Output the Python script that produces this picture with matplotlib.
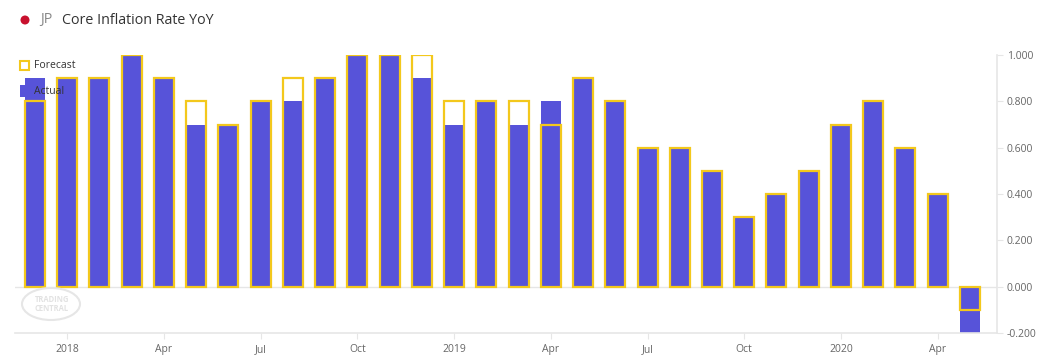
import matplotlib
matplotlib.use("Agg")
import matplotlib.pyplot as plt
from matplotlib.patches import Rectangle, Ellipse
import numpy as np

# ---- data ----
actual = [0.9, 0.9, 0.9, 1.0, 0.9, 0.7, 0.7, 0.8, 0.8, 0.9, 1.0, 1.0, 0.9, 0.7, 0.8,
          0.7, 0.8, 0.9, 0.8, 0.6, 0.6, 0.5, 0.3, 0.4, 0.5, 0.7, 0.8, 0.6, 0.4, -0.2]
forecast = [0.8, 0.9, 0.9, 1.0, 0.9, 0.8, 0.7, 0.8, 0.9, 0.9, 1.0, 1.0, 1.0, 0.8, 0.8,
            0.8, 0.7, 0.9, 0.8, 0.6, 0.6, 0.5, 0.3, 0.4, 0.5, 0.7, 0.8, 0.6, 0.4, -0.1]
xtick_pos = [1, 4, 7, 10, 13, 16, 19, 22, 25, 28]
xtick_labels = ["2018", "Apr", "Jul", "Oct", "2019", "Apr", "Jul", "Oct", "2020", "Apr"]
ytick_vals = [-0.2, 0.0, 0.2, 0.4, 0.6, 0.8, 1.0]

BLUE = "#5753d9"
YELLOW = "#f3c81c"
GRID = "#e6e6e6"
TXT = "#666666"

plt.rcParams['font.family'] = ['Open Sans', 'DejaVu Sans']

W, H = 1048, 363
fig = plt.figure(figsize=(W / 100, H / 100), dpi=100)
fig.patch.set_facecolor("white")

def fx(px):
    return px / W

def fy(py):
    return 1 - py / H

ax = fig.add_axes([fx(15), fy(333), fx(997) - fx(15), fy(55) - fy(333)])
x = np.arange(len(actual))
bw = 0.62
ax.bar(x, actual, width=bw, color=BLUE, zorder=2, linewidth=0)
ax.bar(x, forecast, width=bw, facecolor="none", edgecolor=YELLOW, linewidth=1.6, zorder=3)

ax.set_xlim(-0.62, 29.84)
ax.set_ylim(-0.2, 1.0)
ax.axhline(0, color=GRID, linewidth=1, zorder=1)

for s in ["top", "left"]:
    ax.spines[s].set_visible(False)
for s in ["right", "bottom"]:
    ax.spines[s].set_color(GRID)
    ax.spines[s].set_linewidth(1.2)

ax.yaxis.tick_right()
ax.set_yticks(ytick_vals)
ax.set_yticklabels([f"{v:.3f}" for v in ytick_vals])
ax.set_xticks(xtick_pos)
ax.set_xticklabels(xtick_labels)
ax.tick_params(axis="y", colors=GRID, labelcolor=TXT, labelsize=7.5, length=4, pad=3)
ax.tick_params(axis="x", colors=GRID, labelcolor=TXT, labelsize=7.5, length=4, pad=4)
ax.set_facecolor("none")

# Title
fig.patches.append(Ellipse((fx(25), fy(20)), 9 / W, 9 / H, transform=fig.transFigure,
                           facecolor="#c8102e", edgecolor="none", figure=fig))
fig.text(fx(40), fy(20), "JP", color="#888888", fontsize=10.3, va="center", ha="left")
fig.text(fx(62), fy(20), "Core Inflation Rate YoY", color="#333333", fontsize=10.3,
         va="center", ha="left")

# Legend
fig.patches.append(Rectangle((fx(20), fy(70)), fx(9), fy(61) - fy(70),
                             transform=fig.transFigure, facecolor="white",
                             edgecolor=YELLOW, linewidth=1.5, figure=fig, zorder=5))
fig.text(fx(34), fy(66), "Forecast", color="#333333", fontsize=7.5, va="center", ha="left",
         zorder=6)
fig.patches.append(Rectangle((fx(20), fy(97)), fx(10), fy(85) - fy(97),
                             transform=fig.transFigure, facecolor=BLUE,
                             edgecolor="none", figure=fig, zorder=5))
fig.text(fx(34), fy(91), "Actual", color="#333333", fontsize=7.5, va="center", ha="left",
         zorder=6)

# Watermark
fig.patches.append(Ellipse((fx(51), fy(304)), fx(58), fy(288) - fy(320),
                           transform=fig.transFigure, facecolor="none",
                           edgecolor="#e6e6e6", linewidth=1.5, figure=fig, zorder=0))
fig.text(fx(52), fy(304), "TRADING\nCENTRAL", color="#e2e2e2", fontsize=5.5,
         fontweight="bold", va="center", ha="center", linespacing=0.9, zorder=0)

fig.savefig("out.png", dpi=100, facecolor="white")
